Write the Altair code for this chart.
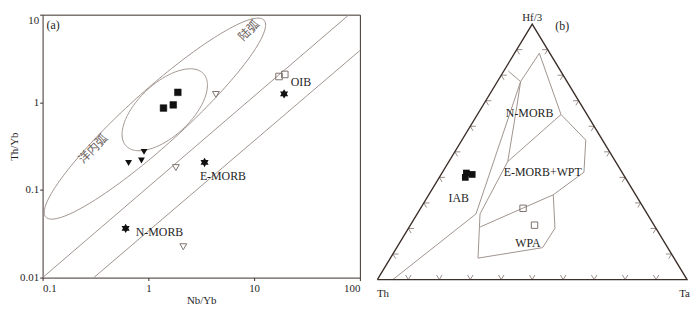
import altair as alt
import numpy as np
import pandas as pd

FONT = "Liberation Serif"
CJK = "Noto Sans CJK SC"
DARK = "#3b2f2a"
LINE = "#a0938e"
MARK_LINE = "#7d726d"
TXT = "#1e1e1e"

# ---------------- panel (a): Th/Yb vs Nb/Yb ----------------
sq_nb = [1.39, 1.72, 1.90]
sq_th = [0.86, 0.935, 1.30]
dtri_nb = [0.65, 0.86, 0.91]
dtri_th = [0.203, 0.217, 0.272]
otri_nb = [4.35, 1.82, 2.14]
otri_th = [1.23, 0.18, 0.0225]
osq_nb = [17.2, 19.5]
osq_th = [1.97, 2.08]
ref_names = ["OIB", "E-MORB", "N-MORB"]
ref_nb = [19.2, 3.40, 0.61]
ref_th = [1.25, 0.206, 0.0365]
ref_lab_nb = [22.2, 3.07, 0.76]
ref_lab_th = [1.72, 0.1426, 0.0331]

# MORB-OIB array boundaries
arr_nb1 = [0.1, 0.305]
arr_th1 = [0.01, 0.01]
arr_nb2 = [79.0, 100.0]
arr_th2 = [10.0, 3.9]

# arc fields (ellipses, log10 centre + two conjugate semi-diameters in decades)
ell_names = ["arc", "oceanic"]
ell_cx = [0.062, 0.155]
ell_cy = [-0.186, -0.085]
ell_ax = [1.032, 0.366]
ell_ay = [1.123, 0.412]
ell_bx = [0.173, 0.170]
ell_by = [-0.233, -0.221]

arc_labels = ["陆弧", "洋内弧"]
arc_lab_nb = [8.93, 0.30]
arc_lab_th = [6.62, 0.296]

# ---------------- panel (b): Hf/3 - Th - Ta ----------------
# field boundary polylines (Th, Hf/3, Ta fractions)
fA_th = [0.950, 0.553, 0.150, 0.169]
fA_hf = [0.000, 0.257, 0.775, 0.816]
fA_ta = [0.050, 0.190, 0.075, 0.015]

fB_th = [0.150, 0.034, 0.084, 0.054, 0.123, 0.266, 0.565]
fB_hf = [0.775, 0.886, 0.646, 0.546, 0.420, 0.332, 0.206]
fB_ta = [0.075, 0.080, 0.270, 0.400, 0.457, 0.402, 0.229]

fC_th = [0.266, 0.326, 0.404, 0.633, 0.540, 0.348, 0.215, 0.150]
fC_hf = [0.332, 0.201, 0.125, 0.084, 0.257, 0.462, 0.671, 0.775]
fC_ta = [0.402, 0.473, 0.471, 0.283, 0.203, 0.190, 0.114, 0.075]

fD_th = [0.084, 0.348]
fD_hf = [0.646, 0.462]
fD_ta = [0.270, 0.190]

b_fill_th = [0.516, 0.488, 0.504]
b_fill_hf = [0.400, 0.4115, 0.417]
b_fill_ta = [0.084, 0.1005, 0.079]
b_open_th = [0.390, 0.386]
b_open_hf = [0.279, 0.213]
b_open_ta = [0.331, 0.401]

field_labels = ["N-MORB", "E-MORB+WPT", "IAB", "WPA"]
field_lab_u = [0.4915, 0.534, 0.2627, 0.486]
field_lab_v = [0.653, 0.420, 0.320, 0.144]


def uv(th, hf, ta):
    s = th + hf + ta
    hf, ta = hf / s, ta / s
    return ta + hf / 2.0, hf


# ---------- build panel (a) ----------
xs = alt.Scale(type="log", domain=[0.1, 100], nice=False)
ys = alt.Scale(type="log", domain=[0.01, 10], nice=False)
xaxis = alt.Axis(values=[0.1, 1, 10, 100], format="~g", title="Nb/Yb", grid=False,
                 domain=False, tickSize=3, tickColor=DARK, labelPadding=2,
                 labelFont=FONT, labelFontSize=11, labelColor=TXT,
                 titleFont=FONT, titleFontSize=11, titleFontWeight="normal",
                 titlePadding=1, titleColor=TXT)
yaxis = alt.Axis(values=[0.01, 0.1, 1, 10], format="~g", title="Th/Yb", grid=False,
                 domain=False, tickSize=3, tickColor=DARK, labelPadding=1,
                 labelFont=FONT, labelFontSize=11, labelColor=TXT,
                 labelBaseline={"condition": {"test": "datum.value == 10", "value": "top"},
                                "value": "middle"},
                 titleFont=FONT, titleFontSize=11, titleFontWeight="normal",
                 titlePadding=0, titleColor=TXT)


def X(f):
    return alt.X(f, type="quantitative", scale=xs, axis=xaxis)


def Y(f):
    return alt.Y(f, type="quantitative", scale=ys, axis=yaxis)


t = np.linspace(0, 2 * np.pi, 181)
ell_rows = []
for i, n in enumerate(ell_names):
    for k, tt in enumerate(t):
        ell_rows.append({
            "name": n, "i": k,
            "x": 10 ** (ell_cx[i] + ell_ax[i] * np.cos(tt) + ell_bx[i] * np.sin(tt)),
            "y": 10 ** (ell_cy[i] + ell_ay[i] * np.cos(tt) + ell_by[i] * np.sin(tt)),
        })
ell_df = pd.DataFrame(ell_rows)

arr_df = pd.DataFrame({"x": arr_nb1, "y": arr_th1, "x2": arr_nb2, "y2": arr_th2})

STAR = ("M0,-1L0.2887,-0.5L0.866,-0.5L0.5774,0L0.866,0.5L0.2887,0.5L0,1"
        "L-0.2887,0.5L-0.866,0.5L-0.5774,0L-0.866,-0.5L-0.2887,-0.5Z")

ell = alt.Chart(ell_df).mark_line(color=LINE, strokeWidth=1, clip=True).encode(
    x=X("x"), y=Y("y"), detail="name:N", order="i:Q")
arr = alt.Chart(arr_df).mark_rule(color=LINE, strokeWidth=1, clip=True).encode(
    x=X("x"), y=Y("y"), x2="x2:Q", y2="y2:Q")
sq = alt.Chart(pd.DataFrame({"x": sq_nb, "y": sq_th})).mark_point(
    shape="square", filled=True, fill="#111111", stroke="#111111", strokeWidth=0.5,
    size=46, opacity=1).encode(x=X("x"), y=Y("y"))
dtri = alt.Chart(pd.DataFrame({"x": dtri_nb, "y": dtri_th})).mark_point(
    shape="triangle-down", filled=True, fill="#111111", size=48, opacity=1).encode(
    x=X("x"), y=Y("y"))
otri = alt.Chart(pd.DataFrame({"x": otri_nb, "y": otri_th})).mark_point(
    shape="triangle-down", filled=True, fill="white", stroke=MARK_LINE, strokeWidth=1,
    size=48, opacity=1).encode(x=X("x"), y=Y("y"))
osq = alt.Chart(pd.DataFrame({"x": osq_nb, "y": osq_th})).mark_point(
    shape="square", filled=True, fill="white", fillOpacity=0, stroke=MARK_LINE,
    strokeWidth=1, size=44, opacity=1).encode(x=X("x"), y=Y("y"))
star = alt.Chart(pd.DataFrame({"x": ref_nb, "y": ref_th})).mark_point(
    shape=STAR, filled=True, fill="#111111", size=90, opacity=1).encode(
    x=X("x"), y=Y("y"))
ref_txt = alt.Chart(pd.DataFrame({"x": ref_lab_nb, "y": ref_lab_th, "t": ref_names})).mark_text(
    align="left", baseline="middle", font=FONT, fontSize=12, color=TXT).encode(
    x=X("x"), y=Y("y"), text="t:N")
arc_txt = alt.Chart(pd.DataFrame({"x": arc_lab_nb, "y": arc_lab_th, "t": arc_labels})).mark_text(
    align="center", baseline="middle", font=CJK, fontSize=12, color="#6a605b",
    angle=315).encode(x=X("x"), y=Y("y"), text="t:N")
tag_a = alt.Chart(pd.DataFrame({"x": [0.1089], "y": [7.53], "t": ["(a)"]})).mark_text(
    align="left", baseline="middle", font=FONT, fontSize=12, color=TXT).encode(
    x=X("x"), y=Y("y"), text="t:N")

panel_a = alt.layer(ell, arr, sq, dtri, otri, osq, star, ref_txt, arc_txt, tag_a).properties(
    width=321, height=266, view=alt.ViewBackground(stroke=DARK, strokeWidth=1))

# ---------- build panel (b) ----------
W_B, H_B = 330, 290
xb = alt.Scale(domain=[-0.0405, -0.0405 + W_B / 313.3], nice=False, zero=False)
yb = alt.Scale(domain=[-0.0851, 1.0368], nice=False, zero=False)


def BX(f):
    return alt.X(f, type="quantitative", scale=xb, axis=None)


def BY(f):
    return alt.Y(f, type="quantitative", scale=yb, axis=None)


# triangle outline
tri_rows = []
for k, (th, hf, ta) in enumerate([(1, 0, 0), (0, 0, 1), (0, 1, 0), (1, 0, 0)]):
    u, v = uv(th, hf, ta)
    tri_rows.append({"i": k, "u": u, "v": v})
tri_df = pd.DataFrame(tri_rows)

# chevron ticks every 10 %
d = 0.018
seg = []
for k in range(1, 10):
    f = k / 10.0
    # left edge (Ta = 0): "<"
    p = (1 - f, f, 0.0)
    for q in [(1 - f - d, f, d), (1 - f, f - d, d)]:
        seg.append((uv(*p), uv(*q)))
    # base (Hf = 0): "V"
    p = (1 - f, 0.0, f)
    for q in [(1 - f - d, d, f), (1 - f, d, f - d)]:
        seg.append((uv(*p), uv(*q)))
    # right edge (Th = 0): ">"
    p = (0.0, f, 1 - f)
    for q in [(d, f, 1 - f - d), (d, f - d, 1 - f)]:
        seg.append((uv(*p), uv(*q)))
tick_df = pd.DataFrame([{"u": a[0], "v": a[1], "u2": b[0], "v2": b[1]} for a, b in seg])

field_rows = []
for name, ths, hfs, tas in [("A", fA_th, fA_hf, fA_ta), ("B", fB_th, fB_hf, fB_ta),
                            ("C", fC_th, fC_hf, fC_ta), ("D", fD_th, fD_hf, fD_ta)]:
    for k, (a, b, c) in enumerate(zip(ths, hfs, tas)):
        u, v = uv(a, b, c)
        field_rows.append({"name": name, "i": k, "u": u, "v": v})
field_df = pd.DataFrame(field_rows)

fill_df = pd.DataFrame([dict(zip(["u", "v"], uv(a, b, c)))
                        for a, b, c in zip(b_fill_th, b_fill_hf, b_fill_ta)])
open_df = pd.DataFrame([dict(zip(["u", "v"], uv(a, b, c)))
                        for a, b, c in zip(b_open_th, b_open_hf, b_open_ta)])

tri = alt.Chart(tri_df).mark_line(color=DARK, strokeWidth=1.4).encode(
    x=BX("u"), y=BY("v"), order="i:Q")
ticks = alt.Chart(tick_df).mark_rule(color="#8d807a", strokeWidth=0.9).encode(
    x=BX("u"), y=BY("v"), x2="u2:Q", y2="v2:Q")
fields = alt.Chart(field_df).mark_line(color=LINE, strokeWidth=1).encode(
    x=BX("u"), y=BY("v"), detail="name:N", order="i:Q")
bfill = alt.Chart(fill_df).mark_point(shape="square", filled=True, fill="#111111",
                                      size=46, opacity=1).encode(x=BX("u"), y=BY("v"))
bopen = alt.Chart(open_df).mark_point(shape="square", filled=True, fill="white",
                                      fillOpacity=0, stroke=MARK_LINE, strokeWidth=1,
                                      size=42, opacity=1).encode(x=BX("u"), y=BY("v"))
flab = alt.Chart(pd.DataFrame({"u": field_lab_u, "v": field_lab_v, "t": field_labels})).mark_text(
    align="center", baseline="middle", font=FONT, fontSize=12, color=TXT).encode(
    x=BX("u"), y=BY("v"), text="t:N")
corner = alt.Chart(pd.DataFrame({"u": [0.5, 0.018, 0.9917], "v": [1.0232, -0.058, -0.058],
                                 "t": ["Hf/3", "Th", "Ta"]})).mark_text(
    align="center", baseline="middle", font=FONT, fontSize=11, color=TXT).encode(
    x=BX("u"), y=BY("v"), text="t:N")
tag_b = alt.Chart(pd.DataFrame({"u": [0.597], "v": [0.9942], "t": ["(b)"]})).mark_text(
    align="center", baseline="middle", font=FONT, fontSize=12, color=TXT).encode(
    x=BX("u"), y=BY("v"), text="t:N")

panel_b = alt.layer(fields, ticks, tri, bfill, bopen, flab, corner, tag_b).properties(
    width=W_B, height=H_B)

chart = alt.hconcat(panel_a, panel_b, spacing=5, bounds="flush").properties(
    padding={"left": 0, "top": 2, "right": 0, "bottom": 0}
).configure_view(stroke="transparent")

chart.save("out.html", embed_options={"renderer": "svg", "actions": False})
